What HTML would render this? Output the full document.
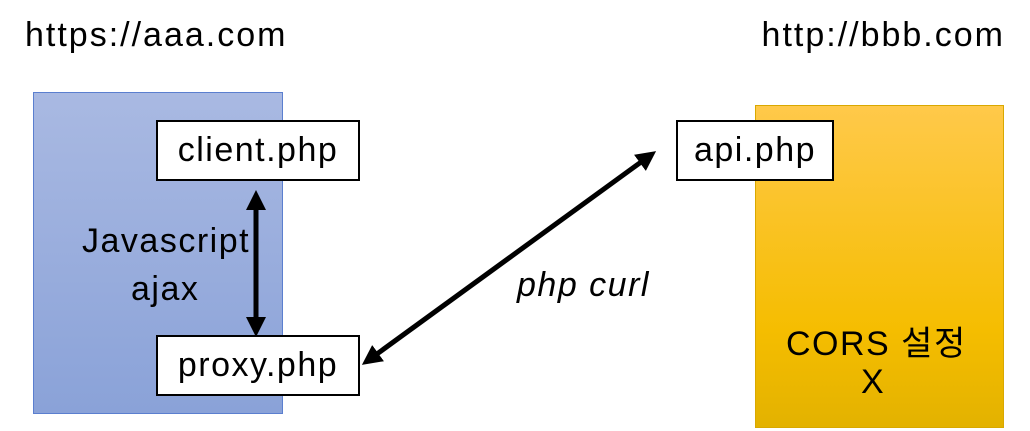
<!DOCTYPE html>
<html><head><meta charset="utf-8"><style>
body{margin:0;width:1030px;height:431px;background:#fff;position:relative;overflow:hidden;font-family:"Liberation Sans","Noto Sans CJK KR",sans-serif;}
.a{position:absolute;}
.box{position:absolute;background:#fff;border:2px solid #000;box-sizing:border-box;font-size:34px;letter-spacing:1.5px;display:flex;align-items:center;justify-content:center;color:#000;}
.t{position:absolute;font-size:34px;letter-spacing:1.5px;color:#000;white-space:nowrap;}
</style></head><body>
<div class="t" style="left:25px;top:16px;letter-spacing:2px;">https://aaa.com</div>
<div class="t" style="right:25px;top:16px;letter-spacing:2px;">http://bbb.com</div>
<div class="a" style="left:33px;top:92px;width:250px;height:322px;background:linear-gradient(#a9b9e2,#8aa2d8);border:1px solid #5b7fcf;box-sizing:border-box;"></div>
<div class="a" style="left:755px;top:105px;width:249px;height:323px;background:linear-gradient(#ffc94a,#f5bd00 70%,#e3b200);border:1px solid #d9a800;box-sizing:border-box;"></div>
<div class="box" style="left:156px;top:120px;width:204px;height:61px;">client.php</div>
<div class="box" style="left:156px;top:335px;width:204px;height:61px;">proxy.php</div>
<div class="box" style="left:676px;top:120px;width:158px;height:61px;">api.php</div>
<div class="t" style="left:82px;top:222px;">Javascript</div>
<div class="t" style="left:131px;top:270px;">ajax</div>
<div class="t" style="left:517px;top:266px;font-style:italic;">php curl</div>
<div class="t" style="left:786px;top:316px;">CORS 설정</div>
<div class="t" style="left:861px;top:363px;">X</div>
<svg class="a" style="left:0;top:0" width="1030" height="431">
<defs><marker id="m" markerWidth="4" markerHeight="4" refX="2" refY="2" orient="auto-start-reverse" markerUnits="strokeWidth"><path d="M0,0L4,2L0,4z" fill="#000"/></marker></defs>
<line x1="256" y1="200" x2="256" y2="327" stroke="#000" stroke-width="5" marker-start="url(#m)" marker-end="url(#m)"/>
<line x1="370" y1="359" x2="648" y2="157" stroke="#000" stroke-width="5" marker-start="url(#m)" marker-end="url(#m)"/>
</svg>
</body></html>
